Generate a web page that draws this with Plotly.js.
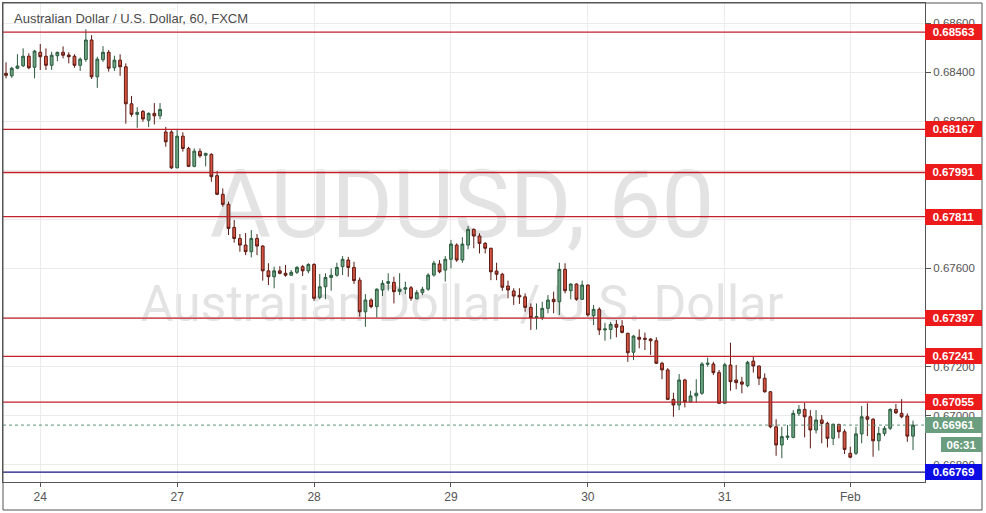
<!DOCTYPE html>
<html>
<head>
<meta charset="utf-8">
<script src="https://cdn.plot.ly/plotly-3.0.1.min.js"></script>
<style>html,body{margin:0;padding:0;background:#fff}#chart{width:986px;height:513px}</style>
</head>
<body>
<div id="chart"></div>
<script>
// ---- DATA (AUDUSD, 60 min, FXCM) ----
const sessions = [["2020-01-23T18:00:00Z", 28], ["2020-01-26T22:00:00Z", 120], ["2020-02-02T22:00:00Z", 12]];

const openP = [
0.68395,0.68385,0.68416,0.68426,0.68465,0.68420,0.68481,0.68465,0.68428,0.68467,
0.68481,0.68470,0.68465,0.68428,0.68452,0.68531,0.68381,0.68451,0.68481,0.68418,
0.68449,0.68422,0.68271,0.68228,0.68240,0.68204,0.68232,0.68222,0.68156,0.68156,
0.68010,0.68139,0.68089,0.68016,0.68077,0.68061,0.68065,0.67978,0.67902,0.67861,
0.67767,0.67722,0.67695,0.67668,0.67722,0.67691,0.67590,0.67566,0.67590,0.67580,
0.67572,0.67584,0.67607,0.67590,0.67616,0.67482,0.67525,0.67563,0.67572,0.67607,
0.67634,0.67604,0.67552,0.67423,0.67471,0.67444,0.67512,0.67539,0.67543,0.67506,
0.67515,0.67521,0.67476,0.67501,0.67515,0.67573,0.67618,0.67593,0.67637,0.67695,
0.67634,0.67695,0.67759,0.67732,0.67702,0.67682,0.67589,0.67576,0.67528,0.67508,
0.67490,0.67484,0.67441,0.67399,0.67399,0.67437,0.67474,0.67464,0.67596,0.67509,
0.67536,0.67474,0.67532,0.67407,0.67433,0.67349,0.67351,0.67372,0.67365,0.67335,
0.67258,0.67319,0.67315,0.67312,0.67305,0.67213,0.67186,0.67066,0.67043,0.67145,
0.67056,0.67080,0.67091,0.67209,0.67210,0.67175,0.67050,0.67206,0.67145,0.67137,
0.67122,0.67222,0.67202,0.67152,0.67097,0.66954,0.66880,0.66911,0.66911,0.67009,
0.67025,0.66995,0.66941,0.66982,0.66968,0.66907,0.66964,0.66934,0.66846,0.66846,
0.66925,0.66995,0.66985,0.66897,0.66927,0.66948,0.67025,0.67009,0.66998,0.66916];

const highP = [
0.68440,0.68422,0.68473,0.68497,0.68477,0.68491,0.68515,0.68497,0.68483,0.68483,
0.68505,0.68481,0.68473,0.68460,0.68575,0.68551,0.68463,0.68506,0.68490,0.68467,
0.68473,0.68436,0.68303,0.68257,0.68246,0.68236,0.68274,0.68274,0.68177,0.68163,
0.68167,0.68155,0.68096,0.68089,0.68089,0.68071,0.68069,0.67997,0.67926,0.67872,
0.67797,0.67740,0.67744,0.67756,0.67740,0.67695,0.67621,0.67607,0.67609,0.67614,
0.67593,0.67609,0.67614,0.67621,0.67621,0.67577,0.67580,0.67600,0.67623,0.67650,
0.67647,0.67627,0.67563,0.67495,0.67478,0.67519,0.67552,0.67580,0.67566,0.67580,
0.67546,0.67528,0.67512,0.67525,0.67580,0.67631,0.67634,0.67650,0.67716,0.67702,
0.67727,0.67773,0.67763,0.67743,0.67707,0.67684,0.67623,0.67582,0.67550,0.67519,
0.67519,0.67498,0.67457,0.67457,0.67464,0.67491,0.67505,0.67623,0.67621,0.67539,
0.67539,0.67550,0.67534,0.67451,0.67441,0.67378,0.67382,0.67389,0.67389,0.67338,
0.67328,0.67351,0.67338,0.67315,0.67319,0.67219,0.67193,0.67093,0.67169,0.67150,
0.67101,0.67148,0.67218,0.67236,0.67219,0.67186,0.67215,0.67297,0.67206,0.67158,
0.67223,0.67240,0.67204,0.67172,0.67100,0.66985,0.66954,0.66961,0.67022,0.67043,
0.67052,0.67022,0.67022,0.67002,0.66975,0.66968,0.66966,0.66944,0.66873,0.66954,
0.67039,0.67050,0.66989,0.66954,0.66957,0.67029,0.67047,0.67067,0.67009,0.66979];

const lowP = [
0.68375,0.68377,0.68412,0.68421,0.68412,0.68375,0.68409,0.68409,0.68409,0.68445,
0.68456,0.68436,0.68418,0.68405,0.68442,0.68372,0.68336,0.68442,0.68402,0.68405,
0.68385,0.68190,0.68218,0.68173,0.68198,0.68176,0.68187,0.68208,0.68096,0.68005,
0.68008,0.68076,0.68013,0.68012,0.68051,0.68016,0.67953,0.67899,0.67851,0.67736,
0.67705,0.67668,0.67654,0.67645,0.67654,0.67550,0.67532,0.67519,0.67576,0.67566,
0.67569,0.67577,0.67569,0.67580,0.67468,0.67474,0.67474,0.67509,0.67566,0.67573,
0.67566,0.67536,0.67403,0.67362,0.67437,0.67400,0.67487,0.67509,0.67457,0.67491,
0.67495,0.67468,0.67474,0.67491,0.67509,0.67566,0.67580,0.67546,0.67600,0.67627,
0.67623,0.67678,0.67682,0.67661,0.67661,0.67552,0.67552,0.67509,0.67478,0.67451,
0.67455,0.67423,0.67349,0.67351,0.67389,0.67417,0.67417,0.67410,0.67498,0.67474,
0.67468,0.67471,0.67403,0.67369,0.67328,0.67305,0.67311,0.67319,0.67335,0.67219,
0.67226,0.67274,0.67267,0.67247,0.67210,0.67148,0.67063,0.66995,0.67022,0.67033,
0.67054,0.67052,0.67084,0.67199,0.67165,0.67048,0.67048,0.67101,0.67107,0.67091,
0.67115,0.67175,0.67124,0.67093,0.66948,0.66836,0.66826,0.66900,0.66907,0.66998,
0.66911,0.66866,0.66927,0.66887,0.66870,0.66880,0.66907,0.66843,0.66826,0.66839,
0.66887,0.66916,0.66832,0.66857,0.66916,0.66941,0.67006,0.66989,0.66893,0.66859];

const closeP = [
0.68387,0.68416,0.68425,0.68465,0.68418,0.68486,0.68463,0.68428,0.68469,0.68481,
0.68469,0.68463,0.68428,0.68453,0.68531,0.68381,0.68453,0.68481,0.68416,0.68449,
0.68422,0.68271,0.68228,0.68236,0.68209,0.68232,0.68222,0.68248,0.68116,0.68010,
0.68139,0.68089,0.68016,0.68078,0.68059,0.68069,0.67974,0.67902,0.67861,0.67763,
0.67722,0.67695,0.67668,0.67722,0.67691,0.67590,0.67566,0.67590,0.67580,0.67572,
0.67584,0.67604,0.67590,0.67616,0.67478,0.67525,0.67563,0.67572,0.67604,0.67637,
0.67604,0.67550,0.67423,0.67471,0.67444,0.67515,0.67539,0.67546,0.67505,0.67515,
0.67521,0.67478,0.67501,0.67515,0.67573,0.67621,0.67586,0.67637,0.67699,0.67634,
0.67699,0.67759,0.67732,0.67702,0.67682,0.67586,0.67576,0.67523,0.67512,0.67487,
0.67484,0.67441,0.67399,0.67403,0.67437,0.67471,0.67464,0.67596,0.67509,0.67536,
0.67474,0.67532,0.67410,0.67433,0.67349,0.67353,0.67372,0.67360,0.67339,0.67256,
0.67324,0.67311,0.67311,0.67305,0.67213,0.67186,0.67066,0.67043,0.67145,0.67056,
0.67080,0.67091,0.67210,0.67213,0.67175,0.67050,0.67207,0.67138,0.67134,0.67128,
0.67217,0.67202,0.67152,0.67097,0.66954,0.66880,0.66914,0.66916,0.67009,0.67025,
0.66995,0.66941,0.66982,0.66968,0.66907,0.66964,0.66934,0.66862,0.66830,0.66925,
0.66995,0.66985,0.66897,0.66927,0.66948,0.67025,0.67011,0.66995,0.66916,0.66961];

const tickTimes = ["2020-01-24 00:00","2020-01-27 00:00","2020-01-28 00:00","2020-01-29 00:00","2020-01-30 00:00","2020-01-31 00:00","2020-02-02 22:00"];
const tickLabels = ["24","27","28","29","30","31","Feb"];

const levelsRed = [0.68563, 0.68167, 0.67991, 0.67811, 0.67397, 0.67241, 0.67055];
const levelBlue = 0.66769;
const lastPrice = 0.66961;
const countdown = "06:31";
const titleText = "Australian Dollar / U.S. Dollar, 60, FXCM";
const wmSymbol = "AUDUSD, 60";
const wmName = "Australian Dollar / U.S. Dollar";

// ---- build hourly category labels ----
const times = [];
sessions.forEach(function (s) {
  const t0 = Date.parse(s[0]);
  for (let k = 0; k < s[1]; k++) {
    const d = new Date(t0 + k * 3600000);
    times.push(d.toISOString().slice(0, 16).replace("T", " "));
  }
});

// ---- geometry helpers (pixels -> paper) ----
const W = 986, H = 513, L = 3, R = 925, T = 3, B = 482;
const px = x => (x - L) / (R - L);
const py = y => (B - y) / (B - T);

const trace = {
  type: "candlestick",
  x: times, open: openP, high: highP, low: lowP, close: closeP,
  increasing: { fillcolor: "#6ba583", line: { color: "#2c5a3e", width: 1 } },
  decreasing: { fillcolor: "#d75442", line: { color: "#5b1a13", width: 1 } },
  whiskerwidth: 0,
  hoverinfo: "skip",
  showlegend: false
};

const shapes = [];
const annotations = [];

// watermarks (below data)
shapes.push({ type: "rect", xref: "paper", yref: "paper", x0: 0, x1: px(462) * 2, y0: py(198) - 0.09, y1: py(198) + 0.09,
  line: { width: 0 }, fillcolor: "rgba(0,0,0,0)", layer: "below",
  label: { text: wmSymbol, textposition: "middle center", font: { family: "Roboto", size: 94, color: "#e3e3e3" } } });
shapes.push({ type: "rect", xref: "paper", yref: "paper", x0: 0, x1: px(462) * 2, y0: py(300) - 0.06, y1: py(300) + 0.06,
  line: { width: 0 }, fillcolor: "rgba(0,0,0,0)", layer: "below",
  label: { text: wmName, textposition: "middle center", font: { family: "Roboto", size: 50, color: "#e3e3e3" } } });

// horizontal levels
levelsRed.forEach(function (v) {
  shapes.push({ type: "line", xref: "paper", x0: 0, x1: 1, yref: "y", y0: v, y1: v, line: { color: "#c0212b", width: 1.3 } });
  annotations.push({ xref: "paper", x: 1, xanchor: "left", yref: "y", y: v, yanchor: "middle",
    text: "<b>" + v.toFixed(5) + "</b>", showarrow: false, bgcolor: "#ec1a1a", width: 57, height: 16,
    borderpad: 0, borderwidth: 0, align: "center", font: { family: "Liberation Sans", size: 11.5, color: "#ffffff" } });
});
shapes.push({ type: "line", xref: "paper", x0: 0, x1: 1, yref: "y", y0: levelBlue, y1: levelBlue, line: { color: "#15157f", width: 1.3 } });
annotations.push({ xref: "paper", x: 1, xanchor: "left", yref: "y", y: levelBlue, yanchor: "middle",
  text: "<b>" + levelBlue.toFixed(5) + "</b>", showarrow: false, bgcolor: "#0b0be6", width: 57, height: 16,
  borderpad: 0, borderwidth: 0, align: "center", font: { family: "Liberation Sans", size: 11.5, color: "#ffffff" } });

// last price
shapes.push({ type: "line", xref: "paper", x0: 0, x1: 1, yref: "y", y0: lastPrice, y1: lastPrice, line: { color: "#5f9275", width: 1, dash: "dot" } });
annotations.push({ xref: "paper", x: 1, xanchor: "left", yref: "y", y: lastPrice, yanchor: "middle",
  text: "<b>" + lastPrice.toFixed(5) + "</b>", showarrow: false, bgcolor: "#6a9e7f", width: 57, height: 16,
  borderpad: 0, borderwidth: 0, align: "center", font: { family: "Liberation Sans", size: 11.5, color: "#ffffff" } });
annotations.push({ xref: "paper", x: px(941), xanchor: "left", yref: "paper", y: py(444.5), yanchor: "middle",
  text: "<b>" + countdown + "</b>", showarrow: false, bgcolor: "#6a9e7f", width: 41, height: 15,
  borderpad: 0, borderwidth: 0, align: "center", font: { family: "Liberation Sans", size: 11.5, color: "#ffffff" } });

// title
annotations.push({ xref: "paper", x: px(12), xanchor: "left", yref: "paper", y: py(19), yanchor: "middle",
  text: titleText, showarrow: false, font: { family: "Liberation Sans", size: 13, color: "#4a4a4a" } });

// outer frame
shapes.push({ type: "rect", xref: "paper", yref: "paper", x0: 0, x1: px(982), y0: py(510), y1: 1,
  line: { color: "#555555", width: 1 }, fillcolor: "rgba(0,0,0,0)", layer: "above" });

const layout = {
  width: W, height: H,
  margin: { l: L, r: W - R, t: T, b: H - B, pad: 0 },
  paper_bgcolor: "#ffffff", plot_bgcolor: "#ffffff",
  showlegend: false, hovermode: false,
  boxgap: 0.3,
  xaxis: {
    type: "category", range: [-0.53, 161.1],
    tickmode: "array", tickvals: tickTimes, ticktext: tickLabels,
    showgrid: true, gridcolor: "#ebebeb", gridwidth: 1,
    ticks: "outside", ticklen: 4, tickcolor: "#555555",
    showline: true, linecolor: "#555555", linewidth: 1, mirror: true,
    zeroline: false, rangeslider: { visible: false }, fixedrange: true,
    tickfont: { family: "Liberation Sans", size: 12, color: "#555555" }
  },
  yaxis: {
    side: "right", range: [0.66729, 0.68682],
    tickmode: "linear", tick0: 0.668, dtick: 0.002, tickformat: ".5f",
    showgrid: true, gridcolor: "#ebebeb", gridwidth: 1,
    ticks: "outside", ticklen: 5, tickcolor: "#555555",
    showline: true, linecolor: "#555555", linewidth: 1, mirror: true,
    zeroline: false, fixedrange: true,
    tickfont: { family: "Liberation Sans", size: 11.5, color: "#555555" }
  },
  shapes: shapes,
  annotations: annotations
};

Plotly.newPlot("chart", [trace], layout, { displayModeBar: false, staticPlot: true });
</script>
</body>
</html>
